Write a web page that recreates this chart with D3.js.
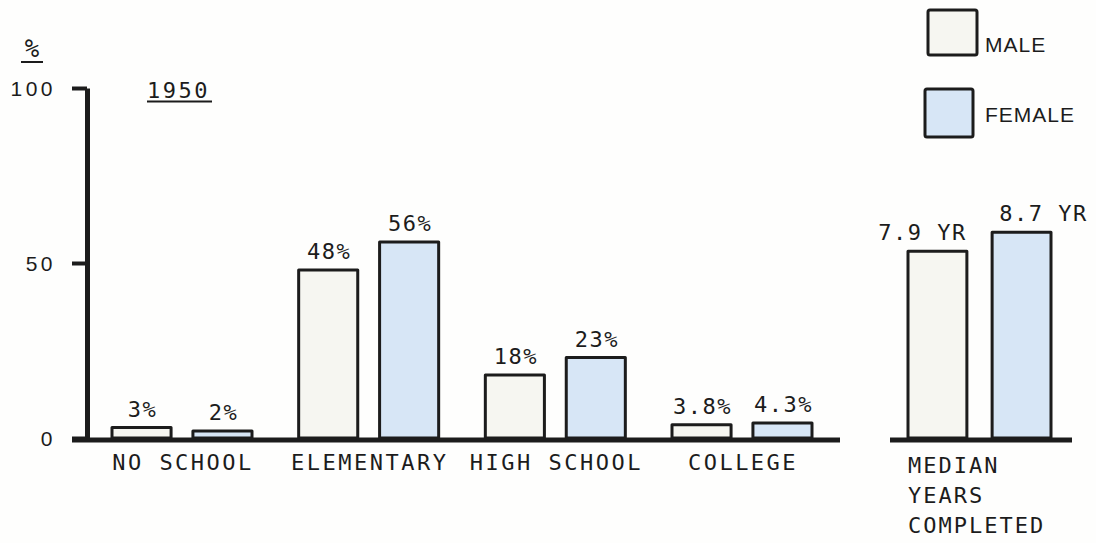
<!DOCTYPE html>
<html>
<head>
<meta charset="utf-8">
<script src="https://cdn.jsdelivr.net/npm/d3@7"></script>
<style>
  html, body { margin: 0; padding: 0; background: #fefefd; }
  svg { display: block; }
  text { font-family: "DejaVu Sans Mono", monospace; font-size: 22px; fill: #1c1c1c; letter-spacing: 2.5px; }
</style>
</head>
<body>
<svg id="chart" width="1096" height="543"></svg>
<script>
// Educational attainment, 1950
const categories = ["NO SCHOOL", "ELEMENTARY", "HIGH SCHOOL", "COLLEGE"];
const sexes = ["MALE", "FEMALE"];
const maleValues = [3, 48, 18, 3.8];
const femaleValues = [2, 56, 23, 4.3];
const maleLabels = ["3%", "48%", "18%", "3.8%"];
const femaleLabels = ["2%", "56%", "23%", "4.3%"];
const medianYears = [7.9, 8.7];
const medianLabels = ["7.9 YR", "8.7 YR"];
const yTicks = [0, 50, 100];
const yearLabel = "1950";
const medianCaption = ["MEDIAN", "YEARS", "COMPLETED"];

const fills = { MALE: "#f6f6f1", FEMALE: "#d7e6f6" };
const ink = "#1c1c1c";

const svg = d3.select("#chart");

const y = d3.scaleLinear().domain([0, 100]).range([438, 88]);
const yYears = d3.scaleLinear().domain([0, 14.8]).range([438, 88]);

const x = d3.scaleBand().domain(categories).range([112, 812]).paddingInner(0.25).paddingOuter(0);
const xs = d3.scaleBand().domain(sexes).range([0, x.bandwidth()]).paddingInner(0.27).paddingOuter(0);
const xm = d3.scaleBand().domain(sexes).range([908, 1051]).paddingInner(0.3).paddingOuter(0);

// y axis
const yAxis = d3.axisLeft(y).tickValues(yTicks).tickSize(15).tickSizeOuter(0).tickPadding(16);
const ag = svg.append("g").attr("transform", "translate(87,0)").call(yAxis);
ag.select(".domain").attr("stroke", ink).attr("stroke-width", 5);
ag.selectAll(".tick line").attr("stroke", ink).attr("stroke-width", 4);
ag.selectAll(".tick text").attr("fill", ink)
  .style("font-family", "'Liberation Sans', Arial, sans-serif")
  .style("font-size", "21px").style("letter-spacing", "3.5px")
  .attr("dx", "0px").attr("dy", "0.36em");

// "%" unit label
svg.append("text").attr("x", 32).attr("y", 57).attr("text-anchor", "middle")
  .style("letter-spacing", "0px").style("font-size", "24px").style("font-style", "italic").text("%");
svg.append("line").attr("x1", 21).attr("x2", 43).attr("y1", 62).attr("y2", 62).attr("stroke", ink).attr("stroke-width", 2);

// year title
svg.append("text").attr("x", 147).attr("y", 98).style("letter-spacing", "2.5px").text(yearLabel);
svg.append("line").attr("x1", 147).attr("x2", 212).attr("y1", 101.5).attr("y2", 101.5).attr("stroke", ink).attr("stroke-width", 2.2);

// bars by category
const rows = categories.map((c, i) => ({
  cat: c,
  bars: [
    { sex: "MALE", value: maleValues[i], label: maleLabels[i] },
    { sex: "FEMALE", value: femaleValues[i], label: femaleLabels[i] }
  ]
}));

const groups = svg.append("g").selectAll("g").data(rows).join("g")
  .attr("transform", d => `translate(${x(d.cat)},0)`);

groups.selectAll("rect").data(d => d.bars).join("rect")
  .attr("x", d => xs(d.sex))
  .attr("y", d => y(d.value))
  .attr("width", xs.bandwidth())
  .attr("height", d => y(0) - y(d.value))
  .attr("fill", d => fills[d.sex])
  .attr("stroke", ink).attr("stroke-width", 3).attr("stroke-linejoin", "round");

groups.selectAll("text.val").data(d => d.bars).join("text")
  .attr("class", "val")
  .attr("x", d => xs(d.sex) + xs.bandwidth() / 2 + 1)
  .attr("y", d => y(d.value) - 11)
  .attr("text-anchor", "middle")
  .style("letter-spacing", "1.5px")
  .text(d => d.label);

// category labels
svg.append("g").selectAll("text").data(categories).join("text")
  .attr("x", d => x(d) + x.bandwidth() / 2 + 1)
  .attr("y", 470)
  .attr("text-anchor", "middle")
  .text(d => d);

// baseline for categories
svg.append("line").attr("x1", 72).attr("x2", 840).attr("y1", y(0) + 2).attr("y2", y(0) + 2)
  .attr("stroke", ink).attr("stroke-width", 5);

// median years panel
const med = sexes.map((s, i) => ({ sex: s, value: medianYears[i], label: medianLabels[i] }));
svg.append("g").selectAll("rect").data(med).join("rect")
  .attr("x", d => xm(d.sex))
  .attr("y", d => yYears(d.value))
  .attr("width", xm.bandwidth())
  .attr("height", d => yYears(0) - yYears(d.value))
  .attr("fill", d => fills[d.sex])
  .attr("stroke", ink).attr("stroke-width", 3).attr("stroke-linejoin", "round");

const medOffset = { MALE: -15, FEMALE: 22 };
svg.append("g").selectAll("text").data(med).join("text")
  .attr("x", d => xm(d.sex) + xm.bandwidth() / 2 + medOffset[d.sex])
  .attr("y", d => yYears(d.value) - 11)
  .attr("text-anchor", "middle")
  .style("letter-spacing", "1.5px")
  .text(d => d.label);

svg.append("line").attr("x1", 890).attr("x2", 1072).attr("y1", y(0) + 2).attr("y2", y(0) + 2)
  .attr("stroke", ink).attr("stroke-width", 5);

svg.append("g").selectAll("text").data(medianCaption).join("text")
  .attr("x", 908)
  .attr("y", (d, i) => 473 + i * 30)
  .style("letter-spacing", "2px")
  .text(d => d);

// legend
const legend = [
  { sex: "MALE", bx: 928, by: 10, w: 49, h: 45, ty: 52 },
  { sex: "FEMALE", bx: 925, by: 89, w: 48, h: 48, ty: 122 }
];
const lg = svg.append("g");
lg.selectAll("rect").data(legend).join("rect")
  .attr("x", d => d.bx).attr("y", d => d.by).attr("width", d => d.w).attr("height", d => d.h)
  .attr("rx", 2)
  .attr("fill", d => fills[d.sex]).attr("stroke", ink).attr("stroke-width", 3);
lg.selectAll("text").data(legend).join("text")
  .attr("x", 985).attr("y", d => d.ty)
  .style("font-family", "'Liberation Sans', Arial, sans-serif")
  .style("font-size", "21px")
  .style("letter-spacing", "1px")
  .text(d => d.sex);
</script>
</body>
</html>
